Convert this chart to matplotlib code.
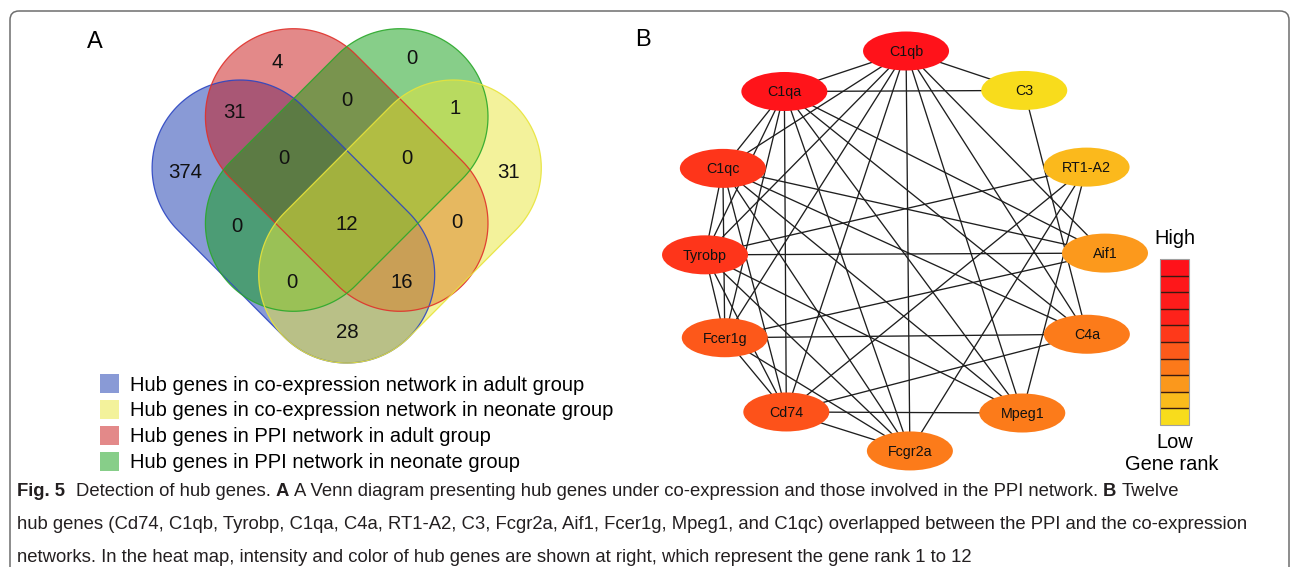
import numpy as np
import matplotlib.pyplot as plt
from matplotlib.patches import Polygon, Ellipse, FancyBboxPatch, Patch
from matplotlib.collections import LineCollection
from matplotlib.colors import LinearSegmentedColormap, to_rgba

# --- Venn data: sets are (coexp adult, coexp neonate, PPI adult, PPI neonate) ---
set_labels = ['Hub genes in co-expression network in adult group',
              'Hub genes in co-expression network in neonate group',
              'Hub genes in PPI network in adult group',
              'Hub genes in PPI network in neonate group']
set_colors = ['#1437af', '#e9e739', '#c91515', '#119f15']
set_edges = ['#2b45c2', '#e8e43a', '#e0302a', '#2aa82a']

region_keys = ['1000', '0100', '0010', '0001', '1010', '0011', '0101', '1001',
               '0110', '1100', '1011', '0111', '1110', '1101', '1111']
region_counts = [374, 31, 4, 0, 31, 0, 1, 0, 0, 28, 0, 0, 16, 0, 12]

# --- network data ---
genes = ['C1qb', 'C3', 'RT1-A2', 'Aif1', 'C4a', 'Mpeg1', 'Fcgr2a',
         'Cd74', 'Fcer1g', 'Tyrobp', 'C1qc', 'C1qa']
rank_score = [1.0, 0.0, 0.12, 0.22, 0.33, 0.33, 0.33, 0.47, 0.45, 0.58, 0.58, 0.95]
edges = [
    ('C1qb', 'C1qa'), ('C1qb', 'C3'), ('C1qb', 'C1qc'), ('C1qb', 'Tyrobp'),
    ('C1qb', 'Fcer1g'), ('C1qb', 'Cd74'), ('C1qb', 'Fcgr2a'), ('C1qb', 'Mpeg1'),
    ('C1qb', 'C4a'), ('C1qb', 'Aif1'),
    ('C1qa', 'C3'), ('C1qa', 'C1qc'), ('C1qa', 'Tyrobp'), ('C1qa', 'Fcer1g'),
    ('C1qa', 'Cd74'), ('C1qa', 'Fcgr2a'), ('C1qa', 'Mpeg1'), ('C1qa', 'C4a'),
    ('C1qa', 'Aif1'),
    ('C1qc', 'Tyrobp'), ('C1qc', 'Fcer1g'), ('C1qc', 'Cd74'), ('C1qc', 'Fcgr2a'),
    ('C1qc', 'Mpeg1'), ('C1qc', 'C4a'), ('C1qc', 'Aif1'),
    ('Tyrobp', 'Fcer1g'), ('Tyrobp', 'Cd74'), ('Tyrobp', 'Fcgr2a'),
    ('Tyrobp', 'Mpeg1'), ('Tyrobp', 'Aif1'), ('Tyrobp', 'RT1-A2'),
    ('Fcer1g', 'Cd74'), ('Fcer1g', 'Fcgr2a'), ('Fcer1g', 'C4a'), ('Fcer1g', 'Aif1'),
    ('Cd74', 'Fcgr2a'), ('Cd74', 'Mpeg1'), ('Cd74', 'C4a'), ('Cd74', 'RT1-A2'),
    ('Fcgr2a', 'RT1-A2'), ('Mpeg1', 'RT1-A2'), ('C4a', 'C3'),
]
n_rank_bins = 10

caption_lines = [
    [('Fig. 5', 'bold'), ('Detection of hub genes.', 'normal'), ('A', 'bold'),
     ('A Venn diagram presenting hub genes under co-expression and those involved in the PPI network.', 'normal'),
     ('B', 'bold'), ('Twelve', 'normal')],
    [('hub genes (Cd74, C1qb, Tyrobp, C1qa, C4a, RT1-A2, C3, Fcgr2a, Aif1, Fcer1g, Mpeg1, and C1qc) '
      'overlapped between the PPI and the co-expression', 'normal')],
    [('networks. In the heat map, intensity and color of hub genes are shown at right, '
      'which represent the gene rank 1 to 12', 'normal')],
]

SANS = ['Liberation Sans', 'DejaVu Sans']
plt.rcParams['font.family'] = SANS

fig = plt.figure(figsize=(12.93, 5.67), dpi=100)
ax = fig.add_axes([0, 0, 1, 1])
ax.set_xlim(0, 1293)
ax.set_ylim(567, 0)
ax.axis('off')

# outer frame
ax.add_patch(FancyBboxPatch((10, 11), 1279, 600, boxstyle='round,pad=0,rounding_size=9',
                            fc='none', ec='#6e6e6e', lw=1.1))


def capsule(p0, p1, r, n=80):
    p0, p1 = np.asarray(p0, float), np.asarray(p1, float)
    d = p1 - p0
    ang = np.arctan2(d[1], d[0])
    a1 = np.linspace(ang - np.pi / 2, ang + np.pi / 2, n)
    a0 = np.linspace(ang + np.pi / 2, ang + 3 * np.pi / 2, n)
    return np.vstack([p1 + r * np.c_[np.cos(a1), np.sin(a1)],
                      p0 + r * np.c_[np.cos(a0), np.sin(a0)]])


# --- A: four-set Venn made of rotated capsules ---
cx, cy, R = 346.7, 222.0, 88.0
h = 53.3
shape_axes = [((cx - 2 * h, cy - 54), (cx, cy + 53)),      # coexp adult
              ((cx + 2 * h, cy - 54), (cx, cy + 53)),      # coexp neonate
              ((cx - h, cy - 105.3), (cx + h, cy + 1.3)),  # PPI adult
              ((cx + h, cy - 105.3), (cx - h, cy + 1.3))]  # PPI neonate
for i in [0, 2, 3, 1]:
    p0, p1 = shape_axes[i]
    ax.add_patch(Polygon(capsule(p0, p1, R), closed=True,
                         fc=to_rgba(set_colors[i], 0.5), ec='none'))
for i in [0, 2, 3, 1]:
    p0, p1 = shape_axes[i]
    ax.add_patch(Polygon(capsule(p0, p1, R), closed=True, fc='none',
                         ec=set_edges[i], lw=0.9, alpha=0.9))

label_pos = {'1000': (185, 173), '0100': (508, 172), '0010': (277, 62), '0001': (412, 59),
             '1010': (234, 112), '0011': (347, 100), '0101': (455, 108), '1001': (237, 227),
             '0110': (457, 223), '1100': (347, 333), '1011': (284, 158), '0111': (407, 159),
             '1110': (402, 283), '1101': (292, 283), '1111': (347, 224)}
for key, n in zip(region_keys, region_counts):
    x, y = label_pos[key]
    ax.text(x, y, str(n), ha='center', va='center', fontsize=14.7, color='#111111')

legend_handles = [Patch(facecolor=to_rgba(c, 0.5), edgecolor='none') for c in set_colors]
ax.legend(legend_handles, set_labels, loc='upper left',
          bbox_to_anchor=(100 / 1293, 1 - 374 / 567), frameon=False, fontsize=14.5,
          handlelength=0.95, handleheight=1.1, handletextpad=0.55, labelspacing=0.27,
          borderpad=0, borderaxespad=0)

ax.text(95, 42, 'A', fontsize=17, ha='center', va='center')
ax.text(643, 40, 'B', fontsize=17, ha='center', va='center')

# --- B: PPI network in circular layout ---
cmap = LinearSegmentedColormap.from_list(
    'rank', [(0.0, '#f8dc1c'), (0.111, '#fbbb1c'), (0.222, '#fc981c'),
             (0.333, '#fc7a1a'), (0.444, '#fd5a1a'), (0.556, '#fe3a1a'),
             (0.667, '#fe221c'), (1.0, '#ff121a')])
angles = np.deg2rad([89.7, 53.4, 24.8, -0.6, -24.6, -54.1, -88.6,
                     -126.4, -154.3, -178.9, 155.6, 127.1])
ncx, ncy, nr = 905, 251, 200
pos = {g: (ncx + nr * np.cos(a), ncy - nr * np.sin(a)) for g, a in zip(genes, angles)}

segs = [[pos[a], pos[b]] for a, b in edges]
ax.add_collection(LineCollection(segs, colors='#1e1e1e', linewidths=0.95, zorder=2))
for g, s in zip(genes, rank_score):
    x, y = pos[g]
    ax.add_patch(Ellipse((x, y), 86, 39, fc=cmap(s), ec='none', zorder=3))
    ax.text(x, y + 1, g, ha='center', va='center', fontsize=10.3, color='#111111', zorder=4)

# rank colour key
bar_x0, bar_x1, bar_y0, bar_y1 = 1160, 1189, 259, 425
levels = np.linspace(1, 0, n_rank_bins)[:, None]
ax.imshow(levels, cmap=cmap, vmin=0, vmax=1, extent=(bar_x0, bar_x1, bar_y1, bar_y0),
          aspect='auto', interpolation='nearest', zorder=2)
edges_y = np.linspace(bar_y0, bar_y1, n_rank_bins + 1)
ax.hlines(edges_y[1:-1], bar_x0, bar_x1, colors='#3a1a10', lw=1.0, zorder=3)
ax.add_patch(plt.Rectangle((bar_x0, bar_y0), bar_x1 - bar_x0, bar_y1 - bar_y0,
                           fc='none', ec='#a0a0a0', lw=0.8, zorder=3))
ax.text(1175, 238, 'High', ha='center', va='center', fontsize=14.4)
ax.text(1175, 443, 'Low', ha='center', va='center', fontsize=14.4)
ax.text(1172, 465, 'Gene rank', ha='center', va='center', fontsize=14.4)

# --- caption with inline bold runs ---
cap_family = ['Liberation Sans Narrow', 'Liberation Sans']
cap_size = 14.0
cap_y = [496, 529, 562]
cap_texts = []
for line, y in zip(caption_lines, cap_y):
    t = ax.text(17, y, line[0][0], fontweight=line[0][1], family=cap_family,
                fontsize=cap_size, va='baseline', ha='left', color='#231f20')
    cap_texts.append(t)
    for k, (s, w) in enumerate(line[1:]):
        gap = 0.55 if k == 0 and line[0][0].startswith('Fig') else 0.26
        t = ax.annotate(s, xy=(1, 0), xycoords=t, xytext=(gap * cap_size, 0),
                        textcoords='offset points', va='bottom', ha='left',
                        fontweight=w, family=cap_family, fontsize=cap_size, color='#231f20')
        cap_texts.append(t)

fig.canvas.draw()
w = cap_texts[-2].get_window_extent().width
scale = (1256 - 17) / w
for t in cap_texts:
    t.set_fontsize(cap_size * scale)

fig.savefig('out.png', dpi=100)
